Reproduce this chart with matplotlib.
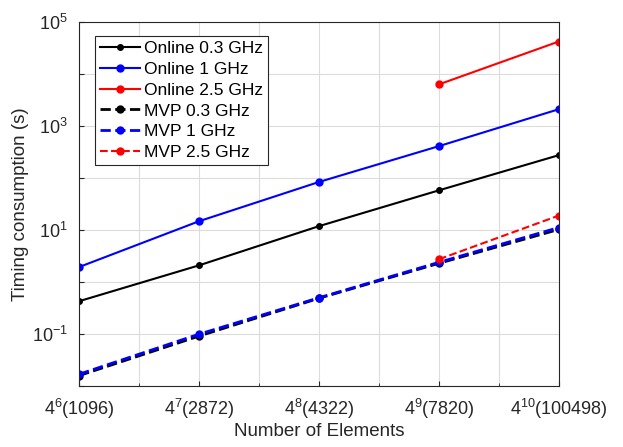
import numpy as np
import matplotlib
matplotlib.use('Agg')
from matplotlib import pyplot as plt

plt.rcParams['font.family'] = ['Liberation Sans', 'DejaVu Sans']
plt.rcParams['mathtext.default'] = 'regular'

# data
x_labels = [r'$4^{6}$(1096)', r'$4^{7}$(2872)', r'$4^{8}$(4322)', r'$4^{9}$(7820)', r'$4^{10}$(100498)']
x = np.arange(5)
x_big = np.array([3, 4])

online_03 = [0.43, 2.1, 11.9, 58, 275]
online_1 = [1.95, 14.8, 84, 410, 2100]
online_25 = [6300, 42000]
mvp_03 = [0.016, 0.092, 0.49, 2.3, 10.3]
mvp_1 = [0.017, 0.1, 0.5, 2.4, 11.2]
mvp_25 = [2.75, 19]

fig = plt.figure(figsize=(6.23, 4.47), dpi=100)
ax = fig.add_axes([0.127, 0.136, 0.770, 0.815])

ax.plot(x, online_03, '-', color='k', marker='o', ms=4, lw=1.5, label='Online 0.3 GHz')
ax.plot(x, online_1, '-', color='b', marker='o', ms=5, lw=1.5, label='Online 1 GHz')
ax.plot(x_big, online_25, '-', color='r', marker='o', ms=5, lw=1.5, label='Online 2.5 GHz')
ax.plot(x, mvp_03, '--', color='k', marker='o', ms=5, lw=2, label='MVP 0.3 GHz')
ax.plot(x, mvp_1, '--', color='b', marker='o', ms=5, lw=2, label='MVP 1 GHz')
ax.plot(x_big, mvp_25, '--', color='r', marker='o', ms=5, lw=1.5, label='MVP 2.5 GHz')

ax.set_yscale('log')
ax.set_ylim(1e-2, 1e5)
ax.set_xlim(0, 4)

yt = [10.0**k for k in range(-2, 6)]
ax.set_yticks(yt)
ax.set_yticklabels(['' if k % 2 == 0 else r'$10^{%d}$' % k for k in range(-2, 6)])
ax.yaxis.set_minor_locator(matplotlib.ticker.NullLocator())
ax.set_xticks(x)
ax.set_xticklabels(x_labels)
ax.set_xticks(np.arange(0.5, 4, 1), minor=True)

ax.grid(True, which='both', color='#dcdcdc', lw=0.8)
ax.set_axisbelow(True)
ax.tick_params(which='both', direction='in', labelsize=13, colors='#262626', pad=8)
for s in ax.spines.values():
    s.set_color('#262626')
    s.set_linewidth(0.8)

ax.set_xlabel('Number of Elements', fontsize=13.5, color='#262626', labelpad=1)
ax.set_ylabel('Timing consumption (s)', fontsize=13.5, color='#262626', labelpad=2)

leg = ax.legend(loc='upper left', fontsize=12.5, fancybox=False, framealpha=1,
                edgecolor='#262626', handlelength=2.3, handletextpad=0.2,
                labelspacing=0.32, borderpad=0.3, bbox_to_anchor=(0.015, 0.985))
leg.get_frame().set_linewidth(0.8)

fig.savefig('out.png', dpi=100)
